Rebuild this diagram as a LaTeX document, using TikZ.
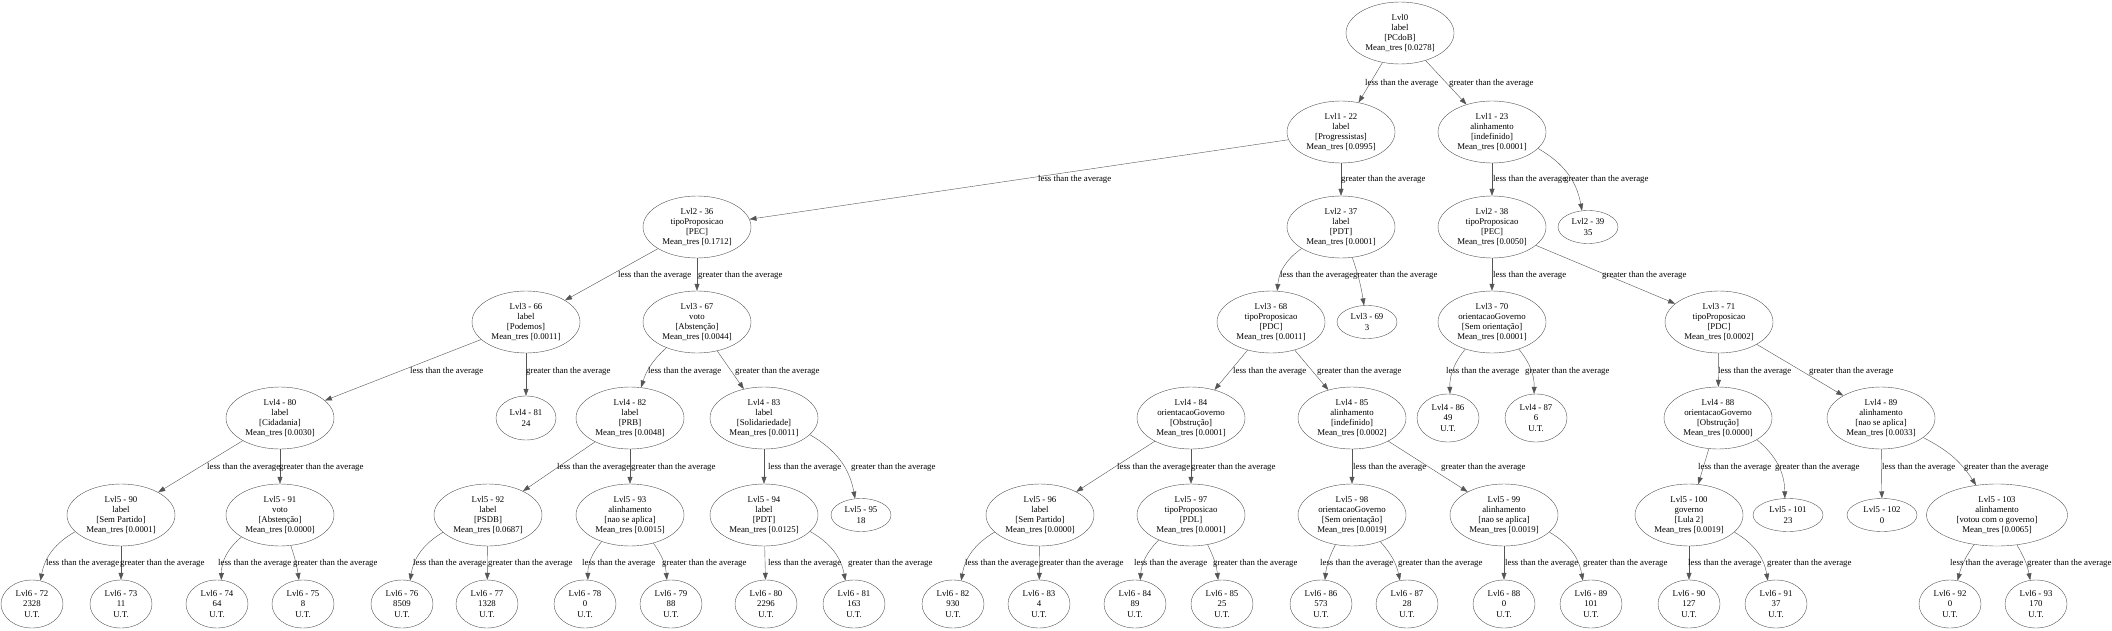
\documentclass[tikz,border=0pt]{standalone}
\usepackage{fontspec}
\setmainfont{Liberation Serif}
\usepackage{tikz}
\usetikzlibrary{arrows.meta, shapes.geometric}
\definecolor{outline}{HTML}{555555}
\newcommand{\lessavg}{less than the average}
\newcommand{\moreavg}{greater than the average}

\begin{document}
\begin{tikzpicture}[x=1pt, y=-1pt,
    font=\fontsize{8.8}{10.3}\selectfont,
    decision/.style={ellipse, draw=outline, inner sep=0pt, align=center,
      minimum width=108pt, minimum height=62pt},
    leafnode/.style={ellipse, draw=outline, inner sep=0pt, align=center,
      minimum width=62pt, minimum height=48pt},
    countnode/.style={ellipse, draw=outline, inner sep=0pt, align=center,
      minimum width=60pt, minimum height=33pt},
    link/.style={draw=outline, -{Triangle[length=7pt, width=5pt]}},
    lbl/.style={anchor=west, inner sep=0pt}]
  \useasboundingbox (0,0) rectangle (2112,631);
  % Root and level 1
  \node[decision] (l0) at (1400,33) {Lvl0\\label\\{[PCdoB]}\\Mean\_tres [0.0278]};
  \node[decision] (l1n22) at (1341,132) {Lvl1 - 22\\label\\{[Progressistas]}\\Mean\_tres [0.0995]};
  \node[decision] (l1n23) at (1492,132) {Lvl1 - 23\\alinhamento\\{[indefinido]}\\Mean\_tres [0.0001]};
  % Level 2
  \node[decision] (l2n36) at (697,227) {Lvl2 - 36\\tipoProposicao\\{[PEC]}\\Mean\_tres [0.1712]};
  \node[decision] (l2n37) at (1341,227) {Lvl2 - 37\\label\\{[PDT]}\\Mean\_tres [0.0001]};
  \node[decision] (l2n38) at (1492,227) {Lvl2 - 38\\tipoProposicao\\{[PEC]}\\Mean\_tres [0.0050]};
  \node[countnode] (l2n39) at (1588,227) {Lvl2 - 39\\35};
  % Level 3
  \node[decision] (l3n66) at (526,322) {Lvl3 - 66\\label\\{[Podemos]}\\Mean\_tres [0.0011]};
  \node[decision] (l3n67) at (697,322) {Lvl3 - 67\\voto\\{[Abstenção]}\\Mean\_tres [0.0044]};
  \node[decision] (l3n68) at (1271,322) {Lvl3 - 68\\tipoProposicao\\{[PDC]}\\Mean\_tres [0.0011]};
  \node[countnode] (l3n69) at (1367,322) {Lvl3 - 69\\3};
  \node[decision] (l3n70) at (1492,322) {Lvl3 - 70\\orientacaoGoverno\\{[Sem orientação]}\\Mean\_tres [0.0001]};
  \node[decision] (l3n71) at (1719,322) {Lvl3 - 71\\tipoProposicao\\{[PDC]}\\Mean\_tres [0.0002]};
  % Level 4
  \node[decision] (l4n80) at (280,418) {Lvl4 - 80\\label\\{[Cidadania]}\\Mean\_tres [0.0030]};
  \node[countnode, minimum height=44pt] (l4n81) at (526,418) {Lvl4 - 81\\24};
  \node[decision] (l4n82) at (630,418) {Lvl4 - 82\\label\\{[PRB]}\\Mean\_tres [0.0048]};
  \node[decision] (l4n83) at (764,418) {Lvl4 - 83\\label\\{[Solidariedade]}\\Mean\_tres [0.0011]};
  \node[decision] (l4n84) at (1191,418) {Lvl4 - 84\\orientacaoGoverno\\{[Obstrução]}\\Mean\_tres [0.0001]};
  \node[decision] (l4n85) at (1352,418) {Lvl4 - 85\\alinhamento\\{[indefinido]}\\Mean\_tres [0.0002]};
  \node[leafnode] (l4n86) at (1448,418) {Lvl4 - 86\\49\\U.T.};
  \node[leafnode] (l4n87) at (1536,418) {Lvl4 - 87\\6\\U.T.};
  \node[decision] (l4n88) at (1718,418) {Lvl4 - 88\\orientacaoGoverno\\{[Obstrução]}\\Mean\_tres [0.0000]};
  \node[decision] (l4n89) at (1881,418) {Lvl4 - 89\\alinhamento\\{[nao se aplica]}\\Mean\_tres [0.0033]};
  % Level 5
  \node[decision] (l5n90) at (121,515) {Lvl5 - 90\\label\\{[Sem Partido]}\\Mean\_tres [0.0001]};
  \node[decision] (l5n91) at (280,515) {Lvl5 - 91\\voto\\{[Abstenção]}\\Mean\_tres [0.0000]};
  \node[decision] (l5n92) at (488,515) {Lvl5 - 92\\label\\{[PSDB]}\\Mean\_tres [0.0687]};
  \node[decision] (l5n93) at (630,515) {Lvl5 - 93\\alinhamento\\{[nao se aplica]}\\Mean\_tres [0.0015]};
  \node[decision] (l5n94) at (764,515) {Lvl5 - 94\\label\\{[PDT]}\\Mean\_tres [0.0125]};
  \node[countnode] (l5n95) at (861,515) {Lvl5 - 95\\18};
  \node[decision] (l5n96) at (1040,515) {Lvl5 - 96\\label\\{[Sem Partido]}\\Mean\_tres [0.0000]};
  \node[decision] (l5n97) at (1191,515) {Lvl5 - 97\\tipoProposicao\\{[PDL]}\\Mean\_tres [0.0001]};
  \node[decision] (l5n98) at (1352,515) {Lvl5 - 98\\orientacaoGoverno\\{[Sem orientação]}\\Mean\_tres [0.0019]};
  \node[decision] (l5n99) at (1504,515) {Lvl5 - 99\\alinhamento\\{[nao se aplica]}\\Mean\_tres [0.0019]};
  \node[decision] (l5n100) at (1689,515) {Lvl5 - 100\\governo\\{[Lula 2]}\\Mean\_tres [0.0019]};
  \node[countnode, minimum width=70pt] (l5n101) at (1788,515) {Lvl5 - 101\\23};
  \node[countnode, minimum width=70pt] (l5n102) at (1882,515) {Lvl5 - 102\\0};
  \node[decision, minimum width=141pt] (l5n103) at (1997,515) {Lvl5 - 103\\alinhamento\\{[votou com o governo]}\\Mean\_tres [0.0065]};
  % Level 6 (leaves)
  \node[leafnode] (l6n72) at (32,604) {Lvl6 - 72\\2328\\U.T.};
  \node[leafnode] (l6n73) at (121,604) {Lvl6 - 73\\11\\U.T.};
  \node[leafnode] (l6n74) at (217,604) {Lvl6 - 74\\64\\U.T.};
  \node[leafnode] (l6n75) at (303,604) {Lvl6 - 75\\8\\U.T.};
  \node[leafnode] (l6n76) at (402,604) {Lvl6 - 76\\8509\\U.T.};
  \node[leafnode] (l6n77) at (487,604) {Lvl6 - 77\\1328\\U.T.};
  \node[leafnode] (l6n78) at (585,604) {Lvl6 - 78\\0\\U.T.};
  \node[leafnode] (l6n79) at (671,604) {Lvl6 - 79\\88\\U.T.};
  \node[leafnode] (l6n80) at (766,604) {Lvl6 - 80\\2296\\U.T.};
  \node[leafnode] (l6n81) at (854,604) {Lvl6 - 81\\163\\U.T.};
  \node[leafnode] (l6n82) at (953,604) {Lvl6 - 82\\930\\U.T.};
  \node[leafnode] (l6n83) at (1039,604) {Lvl6 - 83\\4\\U.T.};
  \node[leafnode] (l6n84) at (1135,604) {Lvl6 - 84\\89\\U.T.};
  \node[leafnode] (l6n85) at (1222,604) {Lvl6 - 85\\25\\U.T.};
  \node[leafnode] (l6n86) at (1321,604) {Lvl6 - 86\\573\\U.T.};
  \node[leafnode] (l6n87) at (1407,604) {Lvl6 - 87\\28\\U.T.};
  \node[leafnode] (l6n88) at (1504,604) {Lvl6 - 88\\0\\U.T.};
  \node[leafnode] (l6n89) at (1591,604) {Lvl6 - 89\\101\\U.T.};
  \node[leafnode] (l6n90) at (1689,604) {Lvl6 - 90\\127\\U.T.};
  \node[leafnode] (l6n91) at (1776,604) {Lvl6 - 91\\37\\U.T.};
  \node[leafnode] (l6n92) at (1950,604) {Lvl6 - 92\\0\\U.T.};
  \node[leafnode] (l6n93) at (2036,604) {Lvl6 - 93\\170\\U.T.};
  % Edges from the root and level 1
  \draw[link] (l0) -- (l1n22);
  \draw[link] (l0) -- (l1n23);
  \draw[link] (l1n22) -- (l2n36);
  \draw[link] (l1n22) -- (l2n37);
  \draw[link] (l1n23) -- (l2n38);
  \draw[link] (l1n23) to[bend left=25] (l2n39);
  % Edges from level 2
  \draw[link] (l2n36) -- (l3n66);
  \draw[link] (l2n36) -- (l3n67);
  \draw[link] (l2n37) to[bend right=25] (l3n68);
  \draw[link] (l2n37) to[bend left=5] (l3n69);
  \draw[link] (l2n38) -- (l3n70);
  \draw[link] (l2n38) -- (l3n71);
  % Edges from level 3
  \draw[link] (l3n66) -- (l4n80);
  \draw[link] (l3n66) -- (l4n81);
  \draw[link] (l3n67) to[bend right=15] (l4n82);
  \draw[link] (l3n67) -- (l4n83);
  \draw[link] (l3n68) -- (l4n84);
  \draw[link] (l3n68) -- (l4n85);
  \draw[link] (l3n70) to[bend right=20] (l4n86);
  \draw[link] (l3n70) to[bend left=20] (l4n87);
  \draw[link] (l3n71) -- (l4n88);
  \draw[link] (l3n71) -- (l4n89);
  % Edges from level 4
  \draw[link] (l4n80) -- (l5n90);
  \draw[link] (l4n80) -- (l5n91);
  \draw[link] (l4n82) -- (l5n92);
  \draw[link] (l4n82) -- (l5n93);
  \draw[link] (l4n83) -- (l5n94);
  \draw[link] (l4n83) to[bend left=25] (l5n95);
  \draw[link] (l4n84) -- (l5n96);
  \draw[link] (l4n84) -- (l5n97);
  \draw[link] (l4n85) -- (l5n98);
  \draw[link] (l4n85) -- (l5n99);
  \draw[link] (l4n88) -- (l5n100);
  \draw[link] (l4n88) to[bend left=25] (l5n101);
  \draw[link] (l4n89) -- (l5n102);
  \draw[link] (l4n89) to[bend left=15] (l5n103);
  % Edges from level 5
  \draw[link] (l5n90) to[bend right=25] (l6n72);
  \draw[link] (l5n90) -- (l6n73);
  \draw[link] (l5n91) to[bend right=25] (l6n74);
  \draw[link] (l5n91) to[bend left=5] (l6n75);
  \draw[link] (l5n92) to[bend right=25] (l6n76);
  \draw[link] (l5n92) -- (l6n77);
  \draw[link] (l5n93) to[bend right=20] (l6n78);
  \draw[link] (l5n93) to[bend left=15] (l6n79);
  \draw[link] (l5n94) -- (l6n80);
  \draw[link] (l5n94) to[bend left=25] (l6n81);
  \draw[link] (l5n96) to[bend right=25] (l6n82);
  \draw[link] (l5n96) -- (l6n83);
  \draw[link] (l5n97) to[bend right=20] (l6n84);
  \draw[link] (l5n97) to[bend left=10] (l6n85);
  \draw[link] (l5n98) to[bend right=10] (l6n86);
  \draw[link] (l5n98) to[bend left=15] (l6n87);
  \draw[link] (l5n99) -- (l6n88);
  \draw[link] (l5n99) to[bend left=25] (l6n89);
  \draw[link] (l5n100) -- (l6n90);
  \draw[link] (l5n100) to[bend left=25] (l6n91);
  \draw[link] (l5n103) to[bend right=10] (l6n92);
  \draw[link] (l5n103) to[bend left=10] (l6n93);
  % Edge labels, one row per level
  \node[lbl] (t1n22) at (1365,83) {\lessavg};
  \node[lbl] (t1n23) at (1449,83) {\moreavg};
  \node[lbl] (t2n36) at (1038,179) {\lessavg};
  \node[lbl] (t2n37) at (1341,179) {\moreavg};
  \node[lbl] (t2n38) at (1493,179) {\lessavg};
  \node[lbl] (t2n39) at (1564,179) {\moreavg};
  \node[lbl] (t3n66) at (618,275) {\lessavg};
  \node[lbl] (t3n67) at (698,275) {\moreavg};
  \node[lbl] (t3n68) at (1280,275) {\lessavg};
  \node[lbl] (t3n69) at (1353,275) {\moreavg};
  \node[lbl] (t3n70) at (1493,275) {\lessavg};
  \node[lbl] (t3n71) at (1602,275) {\moreavg};
  \node[lbl] (t4n80) at (410,371) {\lessavg};
  \node[lbl] (t4n81) at (526,371) {\moreavg};
  \node[lbl] (t4n82) at (648,371) {\lessavg};
  \node[lbl] (t4n83) at (735,371) {\moreavg};
  \node[lbl] (t4n84) at (1233,371) {\lessavg};
  \node[lbl] (t4n85) at (1317,371) {\moreavg};
  \node[lbl] (t4n86) at (1446,371) {\lessavg};
  \node[lbl] (t4n87) at (1525,371) {\moreavg};
  \node[lbl] (t4n88) at (1718,371) {\lessavg};
  \node[lbl] (t4n89) at (1809,371) {\moreavg};
  \node[lbl] (t5n90) at (207,467) {\lessavg};
  \node[lbl] (t5n91) at (279,467) {\moreavg};
  \node[lbl] (t5n92) at (557,467) {\lessavg};
  \node[lbl] (t5n93) at (631,467) {\moreavg};
  \node[lbl] (t5n94) at (768,467) {\lessavg};
  \node[lbl] (t5n95) at (851,467) {\moreavg};
  \node[lbl] (t5n96) at (1117,467) {\lessavg};
  \node[lbl] (t5n97) at (1191,467) {\moreavg};
  \node[lbl] (t5n98) at (1353,467) {\lessavg};
  \node[lbl] (t5n99) at (1441,467) {\moreavg};
  \node[lbl] (t5n100) at (1698,467) {\lessavg};
  \node[lbl] (t5n101) at (1775,467) {\moreavg};
  \node[lbl] (t5n102) at (1882,467) {\lessavg};
  \node[lbl] (t5n103) at (1964,467) {\moreavg};
  \node[lbl] (t6n72) at (46,563) {\lessavg};
  \node[lbl] (t6n73) at (120,563) {\moreavg};
  \node[lbl] (t6n74) at (218,563) {\lessavg};
  \node[lbl] (t6n75) at (293,563) {\moreavg};
  \node[lbl] (t6n76) at (413,563) {\lessavg};
  \node[lbl] (t6n77) at (488,563) {\moreavg};
  \node[lbl] (t6n78) at (582,563) {\lessavg};
  \node[lbl] (t6n79) at (662,563) {\moreavg};
  \node[lbl] (t6n80) at (768,563) {\lessavg};
  \node[lbl] (t6n81) at (848,563) {\moreavg};
  \node[lbl] (t6n82) at (965,563) {\lessavg};
  \node[lbl] (t6n83) at (1039,563) {\moreavg};
  \node[lbl] (t6n84) at (1134,563) {\lessavg};
  \node[lbl] (t6n85) at (1213,563) {\moreavg};
  \node[lbl] (t6n86) at (1320,563) {\lessavg};
  \node[lbl] (t6n87) at (1398,563) {\moreavg};
  \node[lbl] (t6n88) at (1505,563) {\lessavg};
  \node[lbl] (t6n89) at (1583,563) {\moreavg};
  \node[lbl] (t6n90) at (1688,563) {\lessavg};
  \node[lbl] (t6n91) at (1767,563) {\moreavg};
  \node[lbl] (t6n92) at (1950,563) {\lessavg};
  \node[lbl] (t6n93) at (2027,563) {\moreavg};
\end{tikzpicture}
\end{document}
